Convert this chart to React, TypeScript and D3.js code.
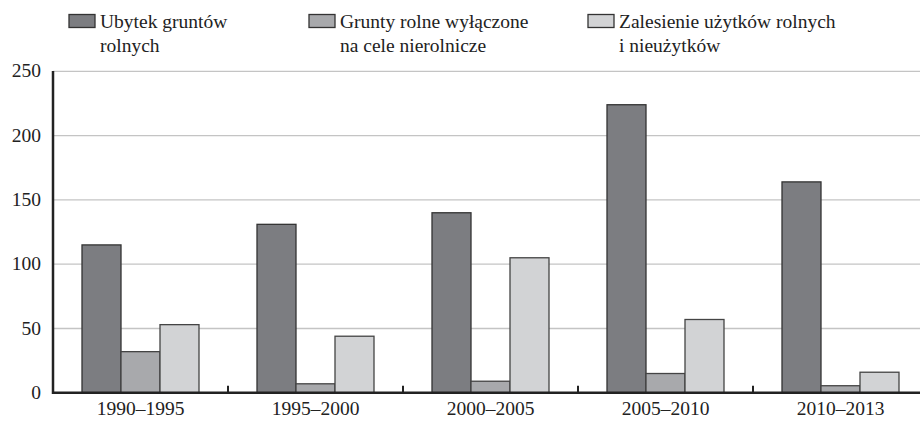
import React from "react";
import * as d3 from "d3";

const categories = ["1990–1995", "1995–2000", "2000–2005", "2005–2010", "2010–2013"];
const seriesNames = [
  ["Ubytek gruntów", "rolnych"],
  ["Grunty rolne wyłączone", "na cele nierolnicze"],
  ["Zalesienie użytków rolnych", "i nieużytków"],
];
const ubytek = [115, 131, 140, 224, 164];
const wylaczone = [32, 7, 9, 15, 5.5];
const zalesienie = [53, 44, 105, 57, 16];
const yTicks = [0, 50, 100, 150, 200, 250];

const colors = ["#7c7d81", "#a8a9ac", "#d2d3d5"];
const strokes = ["#333333", "#444444", "#444444"];

export default function App() {
  const W = 920, H = 421;
  const x0 = 53, zeroY = 392.8;
  const x = d3.scaleBand<string>().domain(categories).range([x0, x0 + 175 * 5]).paddingInner(0).paddingOuter(0);
  const y = d3.scaleLinear().domain([0, 250]).range([zeroY, 71.3]);
  const series = [ubytek, wylaczone, zalesienie];
  const barW = 39;
  const font = "Liberation Serif, DejaVu Serif, serif";
  const legendX = [69, 309, 588];
  const ts = { fontFamily: font, fontSize: "19.5px" } as React.CSSProperties;

  return (
    <svg width={W} height={H} style={{ position: "absolute", left: 0, top: 0, background: "#fff" }}>
      {yTicks.filter(t => t > 0).map(t => (
        <line key={t} x1={x0} x2={W} y1={y(t)} y2={y(t)} stroke="#c4c4c4" strokeWidth={1.3} />
      ))}
      {yTicks.map(t => (
        <text key={t} x={41} y={y(t) + 6} textAnchor="end" style={ts} fill="#222">{t}</text>
      ))}
      {categories.map((c, i) => {
        const cx = (x(c) as number) + x.bandwidth() / 2;
        return series.map((s, j) => {
          const bx = cx - 1.5 * barW + j * barW;
          return (
            <rect key={c + j} x={bx} y={y(s[i])} width={barW} height={zeroY - y(s[i])}
              fill={colors[j]} stroke={strokes[j]} strokeWidth={1.3} />
          );
        });
      })}
      <line x1={x0} x2={W} y1={zeroY} y2={zeroY} stroke="#222" strokeWidth={2.5} />
      {categories.slice(1).map(c => (
        <line key={c} x1={x(c) as number} x2={x(c) as number} y1={zeroY} y2={zeroY - 7} stroke="#222" strokeWidth={2} />
      ))}
      <line x1={x0} x2={x0} y1={71} y2={zeroY + 1.2} stroke="#222" strokeWidth={2.5} />
      {categories.map(c => (
        <text key={c} x={(x(c) as number) + x.bandwidth() / 2} y={415} textAnchor="middle" style={ts} fill="#222">{c}</text>
      ))}
      {seriesNames.map((n, j) => (
        <g key={j}>
          <rect x={legendX[j]} y={14.5} width={26} height={13} fill={colors[j]} stroke="#333" strokeWidth={1.3} />
          <text x={legendX[j] + 31} y={28} style={ts} fill="#222">{n[0]}</text>
          <text x={legendX[j] + 31} y={52} style={ts} fill="#222">{n[1]}</text>
        </g>
      ))}
    </svg>
  );
}
